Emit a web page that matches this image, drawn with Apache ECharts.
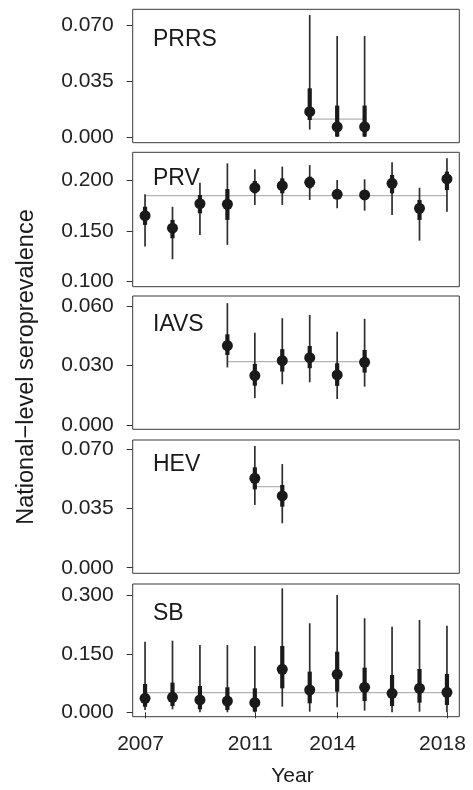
<!DOCTYPE html>
<html>
<head>
<meta charset="utf-8">
<script src="https://cdn.jsdelivr.net/npm/echarts@6/dist/echarts.min.js"></script>
<style>
html,body{margin:0;padding:0;background:#fff;}
#chart{width:473px;height:790px;}
</style>
</head>
<body>
<div id="chart"></div>
<script>
// ---------- DATA ----------
const xTickYears = [2007, 2011, 2014, 2018];

const prrsYears = [2013, 2014, 2015];
const prrsEst   = [0.0158, 0.0063, 0.0063];
const prrsLo50  = [0.0106, 0.0002, 0.0002];
const prrsHi50  = [0.0304, 0.0196, 0.0196];
const prrsLo95  = [0.0046, 0.0000, 0.0000];
const prrsHi95  = [0.0762, 0.0631, 0.0631];
const prrsMean  = 0.0112;
const prrsTicks = [0, 0.035, 0.070];

const prvYears = [2007, 2008, 2009, 2010, 2011, 2012, 2013, 2014, 2015, 2016, 2017, 2018];
const prvEst   = [0.1651, 0.1526, 0.1771, 0.1765, 0.1930, 0.1950, 0.1984, 0.1864, 0.1858, 0.1974, 0.1725, 0.2017];
const prvLo50  = [0.1559, 0.1426, 0.1675, 0.1609, 0.1874, 0.1874, 0.1924, 0.1818, 0.1808, 0.1874, 0.1609, 0.1907];
const prvHi50  = [0.1740, 0.1609, 0.1857, 0.1917, 0.1997, 0.2023, 0.2040, 0.1907, 0.1907, 0.2057, 0.1808, 0.2090];
const prvLo95  = [0.1343, 0.1217, 0.1459, 0.1360, 0.1758, 0.1758, 0.1808, 0.1725, 0.1701, 0.1658, 0.1402, 0.1691];
const prvHi95  = [0.1864, 0.1740, 0.1980, 0.2173, 0.2113, 0.2140, 0.2156, 0.2007, 0.2014, 0.2183, 0.1930, 0.2223];
const prvMean  = 0.1851;
const prvTicks = [0.100, 0.150, 0.200];

const iavsYears = [2010, 2011, 2012, 2013, 2014, 2015];
const iavsEst   = [0.0400, 0.0249, 0.0324, 0.0339, 0.0252, 0.0316];
const iavsLo50  = [0.0353, 0.0198, 0.0269, 0.0286, 0.0197, 0.0264];
const iavsHi50  = [0.0457, 0.0308, 0.0382, 0.0398, 0.0311, 0.0378];
const iavsLo95  = [0.0290, 0.0135, 0.0205, 0.0215, 0.0131, 0.0193];
const iavsHi95  = [0.0614, 0.0465, 0.0538, 0.0555, 0.0470, 0.0535];
const iavsMean  = 0.0319;
const iavsTicks = [0, 0.030, 0.060];

const hevYears = [2011, 2012];
const hevEst   = [0.0527, 0.0423];
const hevLo50  = [0.0462, 0.0360];
const hevHi50  = [0.0592, 0.0488];
const hevLo95  = [0.0370, 0.0262];
const hevHi95  = [0.0718, 0.0611];
const hevMean  = 0.0478;
const hevTicks = [0, 0.035, 0.070];

const sbYears = [2007, 2008, 2009, 2010, 2011, 2012, 2013, 2014, 2015, 2016, 2017, 2018];
const sbEst   = [0.0360, 0.0386, 0.0317, 0.0290, 0.0248, 0.1106, 0.0574, 0.0977, 0.0643, 0.0488, 0.0617, 0.0514];
const sbLo50  = [0.0144, 0.0162, 0.0077, 0.0060, 0.0016, 0.0617, 0.0231, 0.0530, 0.0290, 0.0162, 0.0248, 0.0188];
const sbHi50  = [0.0728, 0.0763, 0.0677, 0.0643, 0.0617, 0.1706, 0.1046, 0.1560, 0.1148, 0.0960, 0.1114, 0.0985];
const sbLo95  = [0.0060, 0.0077, 0.0000, 0.0000, 0.0000, 0.0144, 0.0016, 0.0128, 0.0042, 0.0000, 0.0016, 0.0000];
const sbHi95  = [0.1817, 0.1843, 0.1731, 0.1731, 0.1706, 0.3190, 0.2290, 0.3018, 0.2418, 0.2203, 0.2375, 0.2229];
const sbMean  = 0.0505;
const sbTicks = [0, 0.150, 0.300];

const panelNames = ['PRRS', 'PRV', 'IAVS', 'HEV', 'SB'];

// ---------- LAYOUT / STYLE ----------
const FONT = 'Liberation Sans, Arial, Helvetica, sans-serif';
const panels = [
  {name:panelNames[0], years:prrsYears, est:prrsEst, lo50:prrsLo50, hi50:prrsHi50, lo95:prrsLo95, hi95:prrsHi95, mean:prrsMean, ticks:prrsTicks,
   top:9.3, height:133.4, ymin:-0.0036, ymax:0.0798, labelY:39.2},
  {name:panelNames[1], years:prvYears, est:prvEst, lo50:prvLo50, hi50:prvHi50, lo95:prvLo95, hi95:prvHi95, mean:prvMean, ticks:prvTicks,
   top:152.3, height:134.4, ymin:0.0943, ymax:0.2283, labelY:178.3},
  {name:panelNames[2], years:iavsYears, est:iavsEst, lo50:iavsLo50, hi50:iavsHi50, lo95:iavsLo95, hi95:iavsHi95, mean:iavsMean, ticks:iavsTicks,
   top:296, height:133.3, ymin:-0.0022, ymax:0.0650, labelY:324.7},
  {name:panelNames[3], years:hevYears, est:hevEst, lo50:hevLo50, hi50:hevHi50, lo95:hevLo95, hi95:hevHi95, mean:hevMean, ticks:hevTicks,
   top:440, height:133.3, ymin:-0.0033, ymax:0.0753, labelY:464.7},
  {name:panelNames[4], years:sbYears, est:sbEst, lo50:sbLo50, hi50:sbHi50, lo95:sbLo95, hi95:sbHi95, mean:sbMean, ticks:sbTicks,
   top:584, height:132.7, ymin:-0.0113, ymax:0.3300, labelY:613.7}
];

const GL = 132.7, GR = 473 - 459.3;
const grids = [], xAxes = [], yAxes = [], series = [], graphics = [];

function segRender(width, color) {
  return function (params, api) {
    const p1 = api.coord([api.value(0), api.value(1)]);
    const p2 = api.coord([api.value(0), api.value(2)]);
    return {
      type: 'line',
      shape: {x1: p1[0], y1: p1[1], x2: p2[0], y2: p2[1]},
      style: {stroke: color, lineWidth: width, lineCap: 'butt'}
    };
  };
}

panels.forEach((p, i) => {
  const last = i === panels.length - 1;
  grids.push({left: GL, right: GR, top: p.top, height: p.height, show: true,
    borderColor: '#3a3a3a', borderWidth: 1, backgroundColor: 'transparent', containLabel: false});
  xAxes.push({
    type: 'value', gridIndex: i, min: 2006.55, max: 2018.45,
    axisLine: {show: false},
    splitLine: {show: false},
    axisTick: {show: last, customValues: xTickYears, length: 6, lineStyle: {color: '#333', width: 1}},
    axisLabel: {show: last, customValues: xTickYears, margin: 17, color: '#222', fontSize: 21, fontFamily: FONT,
      padding: [0, 9, 0, 0], formatter: v => String(v)}
  });
  yAxes.push({
    type: 'value', gridIndex: i, min: p.ymin, max: p.ymax,
    axisLine: {show: false},
    splitLine: {show: false},
    axisTick: {show: true, customValues: p.ticks, length: 6, lineStyle: {color: '#333', width: 1}},
    axisLabel: {show: true, customValues: p.ticks, margin: 19, color: '#222', fontSize: 21, fontFamily: FONT,
      formatter: v => v.toFixed(3)}
  });
  const yFirst = p.years[0], yLast = p.years[p.years.length - 1];
  series.push({
    type: 'line', xAxisIndex: i, yAxisIndex: i, silent: true, symbol: 'none',
    data: [[yFirst, p.mean], [yLast, p.mean]],
    lineStyle: {color: '#b4b4b4', width: 1.2}, z: 1
  });
  series.push({
    type: 'custom', xAxisIndex: i, yAxisIndex: i, silent: true,
    renderItem: segRender(1.7, '#2e2e2e'),
    data: p.years.map((y, k) => [y, p.lo95[k], p.hi95[k]]), z: 2
  });
  series.push({
    type: 'custom', xAxisIndex: i, yAxisIndex: i, silent: true,
    renderItem: segRender(4.2, '#1a1a1a'),
    data: p.years.map((y, k) => [y, p.lo50[k], p.hi50[k]]), z: 3
  });
  series.push({
    type: 'scatter', xAxisIndex: i, yAxisIndex: i, silent: true,
    symbol: 'circle', symbolSize: 11,
    itemStyle: {color: '#1a1a1a', opacity: 1},
    data: p.years.map((y, k) => [y, p.est[k]]), z: 4
  });
  graphics.push({
    type: 'text', x: 153, y: p.labelY, silent: true,
    style: {text: p.name, fill: '#1a1a1a', font: '23px ' + FONT, textAlign: 'left', textVerticalAlign: 'middle'}
  });
});

graphics.push({
  type: 'text', x: 26.7, y: 367, rotation: Math.PI / 2, silent: true,
  style: {text: 'National\u2212level seroprevalence', fill: '#1a1a1a', font: '23.5px ' + FONT,
    textAlign: 'center', textVerticalAlign: 'middle'}
});
graphics.push({
  type: 'text', x: 292.5, y: 776, silent: true,
  style: {text: 'Year', fill: '#1a1a1a', font: '21px ' + FONT, textAlign: 'center', textVerticalAlign: 'middle'}
});

const chart = echarts.init(document.getElementById('chart'), null, {renderer: 'canvas'});
chart.setOption({
  animation: false,
  backgroundColor: '#ffffff',
  grid: grids, xAxis: xAxes, yAxis: yAxes, series: series, graphic: graphics
});
</script>
</body>
</html>
